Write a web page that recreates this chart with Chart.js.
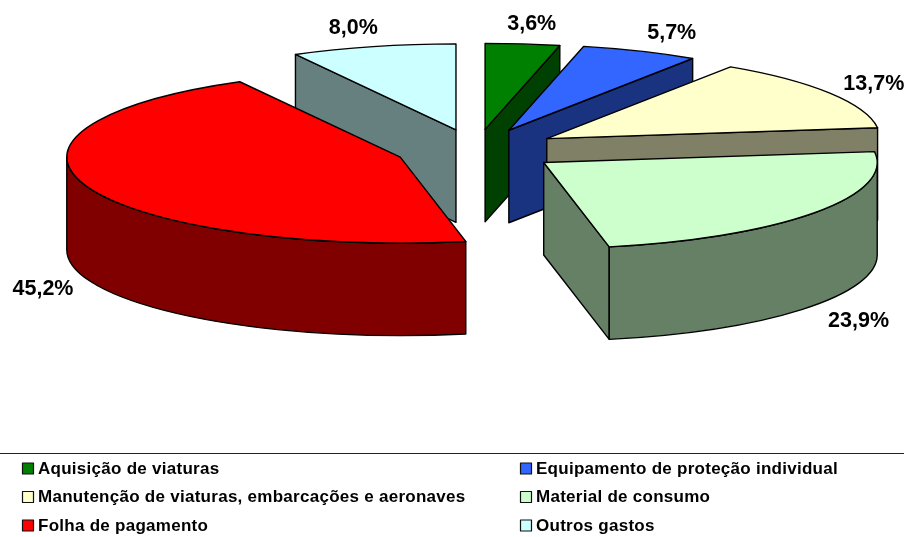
<!DOCTYPE html>
<html>
<head>
<meta charset="utf-8">
<style>html,body{margin:0;padding:0;background:#fff}canvas{display:block}</style>
<script src="https://cdn.jsdelivr.net/npm/chart.js@4/dist/chart.umd.min.js"></script>
</head>
<body>
<canvas id="c" width="904" height="537"></canvas>
<script>
const categories = ['Aquisição de viaturas','Equipamento de proteção individual','Manutenção de viaturas, embarcações e aeronaves','Material de consumo','Folha de pagamento','Outros gastos'];
const shares = [3.6,5.7,13.7,23.9,45.2,8.0];
const topColors = ['#008000','#3366FF','#FFFFCC','#CCFFCC','#FF0000','#CCFFFF'];
const wallColors = ['#004000','#1A3380','#808066','#668066','#800000','#668080'];
const explode = [0.2417,0.25,0.25,0.25,0.2417,0.2417];

const CX = 476, CY = 150, RX = 333.5, RY = 86, DEPTH = 92.5, LW = 1.4;
const INK = '#000';

function centre(chart){
  const a = chart.chartArea;
  return {x:(a.left+a.right)/2, y:(a.top+a.bottom)/2};
}
// screen geometry of one slice, read from the library's arc element
function geo(chart,arc){
  const c = centre(chart), R = arc.outerRadius;
  return {ax: CX+(arc.x-c.x)*RX/R, ay: CY+(arc.y-c.y)*RY/R, a: arc.startAngle, b: arc.endAngle, mid:(arc.startAngle+arc.endAngle)/2};
}
function radialWall(ctx,g,ang,color){
  const x = g.ax+RX*Math.cos(ang), y = g.ay+RY*Math.sin(ang);
  ctx.beginPath();
  ctx.moveTo(g.ax,g.ay); ctx.lineTo(x,y); ctx.lineTo(x,y+DEPTH); ctx.lineTo(g.ax,g.ay+DEPTH); ctx.closePath();
  ctx.fillStyle=color; ctx.fill(); ctx.stroke();
}
const pie3d = {
  id:'pie3d',
  afterDatasetsUpdate(chart){
    const c = centre(chart);
    chart.getDatasetMeta(0).data.forEach((arc,i)=>{
      const mid = (arc.startAngle+arc.endAngle)/2;
      arc.x = c.x+Math.cos(mid)*explode[i]*arc.outerRadius;
      arc.y = c.y+Math.sin(mid)*explode[i]*arc.outerRadius;
    });
  },
  beforeDatasetsDraw(chart){
    const ctx = chart.ctx, arcs = chart.getDatasetMeta(0).data;
    ctx.save();
    ctx.strokeStyle=INK; ctx.lineWidth=LW; ctx.lineJoin='round';
    arcs.forEach((arc,i)=>{
      const g = geo(chart,arc);
      if (Math.cos(g.a) < -1e-6) radialWall(ctx,g,g.a,wallColors[i]);
      if (Math.cos(g.b) >  1e-6) radialWall(ctx,g,g.b,wallColors[i]);
      const a = Math.max(g.a,0), b = Math.min(g.b,Math.PI);
      if (b>a){
        ctx.beginPath();
        ctx.ellipse(g.ax,g.ay,RX,RY,0,a,b);
        ctx.ellipse(g.ax,g.ay+DEPTH,RX,RY,0,b,a,true);
        ctx.closePath();
        ctx.fillStyle=wallColors[i]; ctx.fill(); ctx.stroke();
      }
    });
    ctx.restore();
    const R = arcs[0].outerRadius, c = centre(chart);
    ctx.save();
    ctx.translate(CX,CY);
    ctx.scale(RX/R,RY/R);
    ctx.translate(-c.x,-c.y);
  },
  afterDatasetsDraw(chart){
    const ctx = chart.ctx, arcs = chart.getDatasetMeta(0).data;
    ctx.restore();
    ctx.save();
    ctx.strokeStyle=INK; ctx.lineWidth=LW; ctx.lineJoin='round';
    arcs.forEach(arc=>{
      const g = geo(chart,arc);
      ctx.beginPath();
      ctx.moveTo(g.ax,g.ay);
      ctx.ellipse(g.ax,g.ay,RX,RY,0,g.a,g.b);
      ctx.closePath();
      ctx.stroke();
    });
    // percentage labels
    ctx.fillStyle='#000';
    ctx.font='bold 21.5px "Liberation Sans", Arial, sans-serif';
    ctx.textAlign='center'; ctx.textBaseline='middle';
    arcs.forEach((arc,i)=>{
      const g = geo(chart,arc);
      const c = Math.cos(g.mid), s = Math.sin(g.mid);
      const x = g.ax + RX*c + Math.sign(c)*Math.min(44,80*Math.abs(c));
      const y = g.ay + RY*(s>0?1.3:1.25)*s + (s>0?DEPTH-1:0) + 2;
      ctx.fillText(shares[i].toFixed(1).replace('.',',')+'%',x,y);
    });
    // separator and legend
    ctx.strokeStyle='#222'; ctx.lineWidth=1;
    ctx.beginPath(); ctx.moveTo(0,453.5); ctx.lineTo(904,453.5); ctx.stroke();
    const colX=[22,520], rowY=[468.5,497,525.5];
    ctx.font='bold 17px "Liberation Sans", Arial, sans-serif';
    ctx.letterSpacing='0.27px';
    ctx.textAlign='left';
    categories.forEach((name,i)=>{
      const x=colX[i%2], y=rowY[Math.floor(i/2)];
      ctx.fillStyle=topColors[i];
      ctx.fillRect(x+.5,y-5.5,11,11);
      ctx.strokeStyle='#111'; ctx.lineWidth=1.2;
      ctx.strokeRect(x+.5,y-5.5,11,11);
      ctx.fillStyle='#000';
      ctx.fillText(name,x+16,y+.5);
    });
    ctx.restore();
  }
};
new Chart(document.getElementById('c'),{
  type:'pie',
  data:{labels:categories,datasets:[{data:shares,backgroundColor:topColors,borderWidth:0,hoverOffset:0,clip:false}]},
  options:{responsive:false,animation:false,events:[],layout:{padding:0},
    plugins:{legend:{display:false},tooltip:{enabled:false}}},
  plugins:[pie3d]
});
</script>
</body>
</html>
